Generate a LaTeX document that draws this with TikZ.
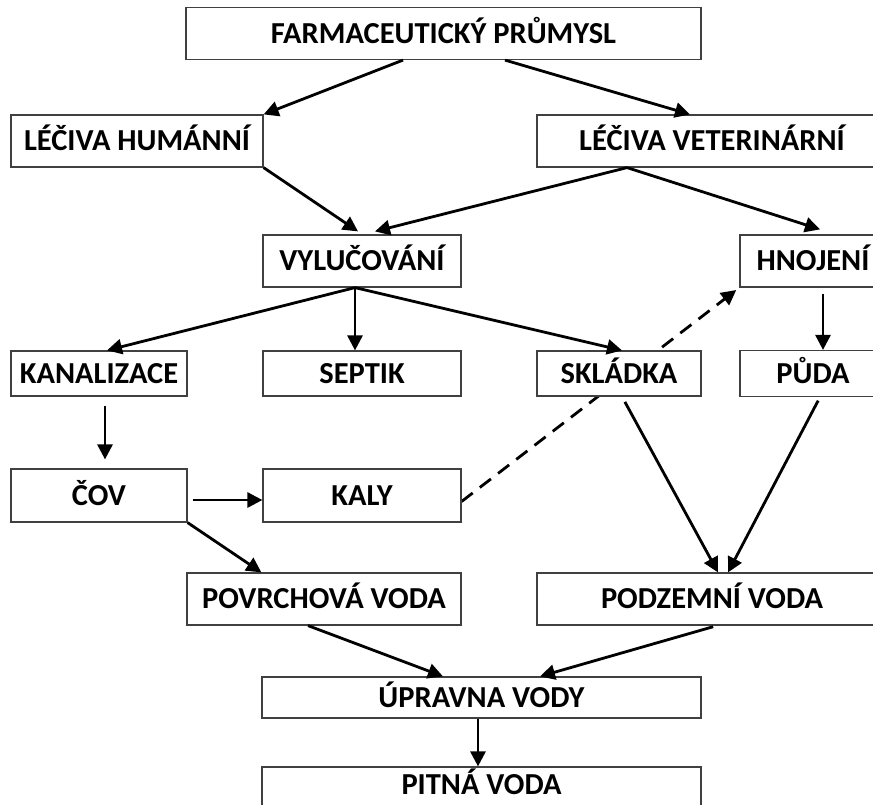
\documentclass[tikz,border=0pt]{standalone}
\usepackage{fontspec}
\setmainfont{Carlito}
\usetikzlibrary{arrows, arrows.meta}
\usetikzlibrary{calc}
\usetikzlibrary{backgrounds}

\begin{document}
\begin{tikzpicture}[x=1pt, y=-1pt,
    box/.style={rectangle, draw=black!75, fill=white, line width=1.2pt, inner sep=0pt,
      minimum height=52pt, text height=19.6pt, text depth=0pt,
      font=\fontsize{30.5}{33}\selectfont\bfseries},
    arr/.style={line width=2.8pt, -{Triangle[length=15pt, width=15pt]}},
    gap/.style={shorten <=6pt}]
      \useasboundingbox (0,0) rectangle (873,804);
      \clip (0,0) rectangle (873,804);
      % boxes
      \node[box, minimum width=515pt] (farm) at (443.5,33.5) {FARMACEUTICKÝ PRŮMYSL};
      \node[box, minimum width=252pt] (hum) at (137,141) {LÉČIVA HUMÁNNÍ};
      \node[box, minimum width=350pt] (vet) at (712,141) {LÉČIVA VETERINÁRNÍ};
      \node[box, minimum width=198pt] (vyl) at (362,261) {VYLUČOVÁNÍ};
      \node[box, minimum width=146pt] (hno) at (813,261) {HNOJENÍ};
      \node[box, minimum width=176pt, minimum height=45pt] (kan) at (99,373.5) {KANALIZACE};
      \node[box, minimum width=198pt, minimum height=45pt] (sep) at (362,373.5) {SEPTIK};
      \node[box, minimum width=164pt, minimum height=45pt] (skl) at (619,373.5) {SKLÁDKA};
      \node[box, minimum width=146pt, minimum height=46pt] (puda) at (813,373.5) {PŮDA};
      \node[box, minimum width=176pt, minimum height=53pt] (cov) at (99,495.5) {ČOV};
      \node[box, minimum width=198pt, minimum height=53pt] (kaly) at (362,495.5) {KALY};
      \node[box, minimum width=274pt] (povr) at (324,599) {POVRCHOVÁ VODA};
      \node[box, minimum width=350pt] (podz) at (712,599) {PODZEMNÍ VODA};
      \node[box, minimum width=439pt, minimum height=41pt] (upr) at (481.5,697.5) {ÚPRAVNA VODY};
      \node[box, minimum width=439pt, text depth=16pt] (pit) at (481.5,793) {PITNÁ VODA};
      % arrows
      \draw[arr] ([xshift=-40.5pt]farm.south) -- (hum.north east);
      \draw[arr] ([xshift=61.5pt]farm.south) -- ([xshift=-22pt]vet.north);
      \draw[arr] (hum.south east) -- ([xshift=-4pt, yshift=3pt]vyl.north);
      \draw[arr] ([xshift=-85pt]vet.south) -- ([xshift=13pt, yshift=3pt]vyl.north);
      \draw[arr] ([xshift=-85pt]vet.south) -- ([xshift=7pt, yshift=5pt]hno.north);
      \draw[arr] ([xshift=-7pt]vyl.south) -- ([xshift=8pt]kan.north);
      \draw[arr] ([xshift=-7pt]vyl.south) -- ([xshift=-7pt]sep.north);
      \draw[arr] ([xshift=-7pt]vyl.south) -- ([xshift=3pt]skl.north);
      \draw[arr, gap] ([xshift=10pt]hno.south) -- ([xshift=10pt]puda.north);
      \draw[arr, shorten <=9pt, shorten >=9pt] ([xshift=6pt]kan.south) -- ([xshift=6pt]cov.north);
      \draw[arr, shorten <=5pt] ([yshift=-4.5pt]cov.east) -- ([yshift=-4.5pt]kaly.west);
      \draw[arr] (cov.south east) -- ([xshift=75pt]povr.north west);
      \begin{pgfonlayer}{background}
        \draw[arr, dash pattern=on 14pt off 9pt, shorten >=4pt] ([yshift=-6pt]kaly.east) -- (hno.south west);
      \end{pgfonlayer}
      \draw[arr, gap] ([xshift=3pt]skl.south) -- ([xshift=6pt]podz.north);
      \draw[arr, shorten <=4pt] ([xshift=7pt]puda.south) -- ([xshift=16pt]podz.north);
      \draw[arr] ([xshift=-16pt]povr.south) -- ([xshift=-38.5pt]upr.north);
      \draw[arr, shorten <=4pt] ([xshift=5pt]podz.south) -- ([xshift=58.5pt]upr.north);
      \draw[arr] ([xshift=-3.5pt]upr.south) -- ([xshift=-3.5pt]pit.north);
    \end{tikzpicture}
\end{document}
